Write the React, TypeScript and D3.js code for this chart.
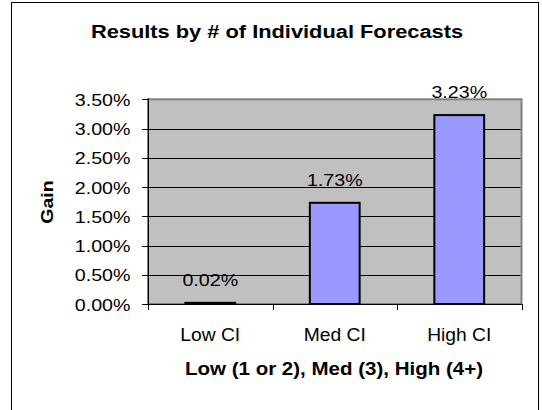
import React from "react";
import * as d3 from "d3";

const categories = ["Low CI", "Med CI", "High CI"];
const gains = [0.0002, 0.0173, 0.0323];
const yTicks = [0, 0.005, 0.01, 0.015, 0.02, 0.025, 0.03, 0.035];
const title = "Results by # of Individual Forecasts";
const xTitle = "Low (1 or 2), Med (3), High (4+)";
const yTitle = "Gain";

const W = 542;
const H = 410;
const FONT = "'Liberation Sans', Arial, Helvetica, sans-serif";

function SText({ x, y, sx = 1, anchor = "middle", size, bold = false, rotate = 0, children }: any) {
  return (
    <g transform={`translate(${x},${y}) rotate(${rotate}) scale(${sx},1)`}>
      <text
        x={0}
        y={0}
        textAnchor={anchor}
        fontFamily={FONT}
        fontSize={size}
        fontWeight={bold ? "bold" : "normal"}
        fill="#000"
      >
        {children}
      </text>
    </g>
  );
}

export default function App() {
  const plot = { left: 148, right: 521.5, top: 99.3, bottom: 304 };
  const x = d3
    .scaleBand<string>()
    .domain(categories)
    .range([plot.left, plot.right])
    .paddingInner(0.6)
    .paddingOuter(0.3);
  const y = d3.scaleLinear().domain([0, 0.035]).range([plot.bottom, plot.top]);
  const fmt = d3.format(".2%");
  const step = x.step();
  const boundaries = d3.range(categories.length + 1).map((i) => plot.left + i * step);

  return (
    <svg width={W} height={H} style={{ position: "absolute", left: 0, top: 0 }}>
      <rect x={0} y={0} width={W} height={H} fill="#fff" />
      <rect x={11.5} y={2.5} width={527} height={430} fill="#fff" stroke="#000" strokeWidth={1} />
      <SText x={277} y={38} size={18.5} bold sx={1.18}>
        {title}
      </SText>
      {/* plot area */}
      <rect
        x={plot.left}
        y={plot.top}
        width={plot.right - plot.left}
        height={plot.bottom - plot.top}
        fill="#C0C0C0"
        stroke="#808080"
        strokeWidth={2}
      />
      {yTicks
        .filter((t) => t > 0 && t < 0.035)
        .map((t) => (
          <line
            key={"g" + t}
            x1={plot.left}
            x2={plot.right - 1}
            y1={Math.round(y(t)) + 0.5}
            y2={Math.round(y(t)) + 0.5}
            stroke="#000"
            strokeWidth={1}
          />
        ))}
      {/* bars */}
      {categories.map((c, i) => (
        <rect
          key={c}
          x={x(c)!}
          y={y(gains[i])}
          width={x.bandwidth()}
          height={plot.bottom - y(gains[i])}
          fill="#9999FF"
          stroke="#000"
          strokeWidth={2}
        />
      ))}
      {/* axes */}
      <line x1={plot.left + 0.5} x2={plot.left + 0.5} y1={plot.top - 1} y2={plot.bottom} stroke="#000" strokeWidth={1} />
      <line x1={plot.left} x2={plot.right} y1={plot.bottom + 0.5} y2={plot.bottom + 0.5} stroke="#000" strokeWidth={1} />
      {yTicks.map((t) => (
        <g key={"t" + t}>
          <line
            x1={plot.left - 6}
            x2={plot.left}
            y1={Math.round(y(t)) + 0.5}
            y2={Math.round(y(t)) + 0.5}
            stroke="#000"
            strokeWidth={1}
          />
          <SText x={130.5} y={y(t) + 6.5} size={16.8} anchor="end" sx={1.17}>
            {fmt(t)}
          </SText>
        </g>
      ))}
      {boundaries.map((b, i) => (
        <line
          key={"xb" + i}
          x1={Math.round(b) + 0.5}
          x2={Math.round(b) + 0.5}
          y1={plot.bottom}
          y2={plot.bottom + 6}
          stroke="#000"
          strokeWidth={1}
        />
      ))}
      {categories.map((c, i) => (
        <SText key={"xl" + c} x={x(c)! + x.bandwidth() / 2} y={341} size={17.5} sx={1.1}>
          {c}
        </SText>
      ))}
      {categories.map((c, i) => (
        <SText key={"dl" + c} x={x(c)! + x.bandwidth() / 2} y={y(gains[i]) - 17} size={16.8} sx={1.17}>
          {fmt(gains[i])}
        </SText>
      ))}
      <SText x={334} y={375} size={18} bold sx={1.14}>
        {xTitle}
      </SText>
      <SText x={53} y={202} size={17} bold rotate={-90} sx={1.15}>
        {yTitle}
      </SText>
    </svg>
  );
}
